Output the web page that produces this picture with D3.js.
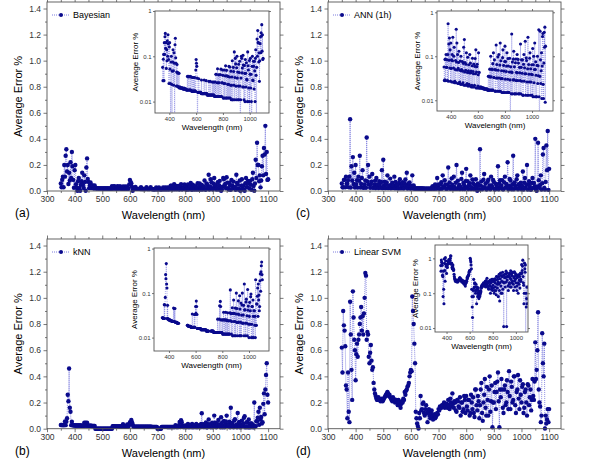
<!DOCTYPE html>
<html>
<head>
<meta charset="utf-8">
<script src="https://cdn.jsdelivr.net/npm/d3@7"></script>
<style>
  body { margin: 0; background: #fff; }
  text { font-family: "Liberation Sans", Arial, sans-serif; }
</style>
</head>
<body>
<div id="chart"></div>
<script>
// wavelengths sampled every 2.5 nm
var wavelength = [
  350,352.5,355,357.5,360,362.5,365,367.5,370,372.5,
  375,377.5,380,382.5,385,387.5,390,392.5,395,397.5,
  400,402.5,405,407.5,410,412.5,415,417.5,420,422.5,
  425,427.5,430,432.5,435,437.5,440,442.5,445,447.5,
  450,452.5,455,457.5,460,462.5,465,467.5,470,472.5,
  475,477.5,480,482.5,485,487.5,490,492.5,495,497.5,
  500,502.5,505,507.5,510,512.5,515,517.5,520,522.5,
  525,527.5,530,532.5,535,537.5,540,542.5,545,547.5,
  550,552.5,555,557.5,560,562.5,565,567.5,570,572.5,
  575,577.5,580,582.5,585,587.5,590,592.5,595,597.5,
  600,602.5,605,607.5,610,612.5,615,617.5,620,622.5,
  625,627.5,630,632.5,635,637.5,640,642.5,645,647.5,
  650,652.5,655,657.5,660,662.5,665,667.5,670,672.5,
  675,677.5,680,682.5,685,687.5,690,692.5,695,697.5,
  700,702.5,705,707.5,710,712.5,715,717.5,720,722.5,
  725,727.5,730,732.5,735,737.5,740,742.5,745,747.5,
  750,752.5,755,757.5,760,762.5,765,767.5,770,772.5,
  775,777.5,780,782.5,785,787.5,790,792.5,795,797.5,
  800,802.5,805,807.5,810,812.5,815,817.5,820,822.5,
  825,827.5,830,832.5,835,837.5,840,842.5,845,847.5,
  850,852.5,855,857.5,860,862.5,865,867.5,870,872.5,
  875,877.5,880,882.5,885,887.5,890,892.5,895,897.5,
  900,902.5,905,907.5,910,912.5,915,917.5,920,922.5,
  925,927.5,930,932.5,935,937.5,940,942.5,945,947.5,
  950,952.5,955,957.5,960,962.5,965,967.5,970,972.5,
  975,977.5,980,982.5,985,987.5,990,992.5,995,997.5,
  1000,1002.5,1005,1007.5,1010,1012.5,1015,1017.5,1020,1022.5,
  1025,1027.5,1030,1032.5,1035,1037.5,1040,1042.5,1045,1047.5,
  1050,1052.5,1055,1057.5,1060,1062.5,1065,1067.5,1070,1072.5,
  1075,1077.5,1080,1082.5,1085,1087.5,1090,1092.5,1095,1097.5,
  1100
];

var bayesian = [
  0.057,0.029,0.086,0.11,0.029,0.2,0.11,0.27,0.32,0.15,
  0.2,0.054,0.14,0.08,0.22,0.1,0.3,0.19,0.085,0.025,
  0.16,0.2,0.052,0.025,0.002,0.075,0.1,0.024,0.002,0.047,
  0.075,0.14,0.048,0.023,0.12,0.07,0.002,0.18,0.25,0.093,
  0.07,0.022,0.045,0.066,0.022,0.043,0.043,0.021,0.021,0.042,
  0.02,0.021,0.021,0.02,0.02,0.02,0.02,0.02,0.02,0.02,
  0.02,0.019,0.019,0.019,0.02,0.019,0.019,0.019,0.019,0.019,
  0.019,0.018,0.018,0.018,0.036,0.018,0.018,0.036,0.035,0.018,
  0.018,0.018,0.036,0.018,0.018,0.035,0.035,0.017,0.017,0.017,
  0.034,0.017,0.017,0.034,0.017,0.017,0.034,0.017,0.017,0.05,
  0.085,0.07,0.06,0.033,0.002,0.016,0.016,0.016,0.032,0.016,
  0.016,0.016,0.016,0.016,0.016,0.015,0.03,0.015,0.015,0.015,
  0.015,0.015,0.015,0.015,0.03,0.015,0.015,0.015,0.015,0.015,
  0.029,0.015,0.015,0.014,0.014,0.014,0.014,0.014,0.028,0.014,
  0.014,0.014,0.028,0.014,0.014,0.014,0.014,0.014,0.027,0.014,
  0.014,0.027,0.014,0.014,0.027,0.013,0.013,0.027,0.013,0.04,
  0.04,0.013,0.013,0.026,0.053,0.013,0.026,0.039,0.013,0.026,
  0.039,0.013,0.013,0.039,0.052,0.013,0.013,0.026,0.026,0.05,
  0.038,0.012,0.012,0.025,0.05,0.012,0.025,0.037,0.062,0.012,
  0.012,0.049,0.037,0.012,0.024,0.036,0.012,0.024,0.06,0.012,
  0.035,0.058,0.012,0.023,0.047,0.011,0.023,0.035,0.08,0.011,
  0.011,0.057,0.046,0.023,0.125,0.011,0.034,0.09,0.068,0.022,
  0.011,0.056,0.1,0.033,0.045,0.011,0.022,0.067,0.011,0.044,
  0.078,0.022,0.002,0.011,0.033,0.1,0.09,0.043,0.055,0.021,
  0.105,0.064,0.021,0.011,0.063,0.042,0.01,0.085,0.042,0.021,
  0.072,0.031,0.03,0.01,0.125,0.062,0.05,0.02,0.01,0.081,
  0.002,0.04,0.09,0.02,0.04,0.01,0.002,0.06,0.1,0.03,
  0.029,0.078,0.06,0.019,0.078,0.048,0.01,0.09,0.14,0.038,
  0.002,0.057,0.24,0.1,0.37,0.2,0.2,0.075,0.12,0.028,
  0.08,0.19,0.27,0.12,0.33,0.28,0.5,0.13,0.3,0.085,
  0.09
];

var knn = [
  0.028,0.028,0.028,0.027,0.027,0.027,0.055,0.027,0.054,0.08,
  0.26,0.21,0.46,0.16,0.13,0.027,0.053,0.026,0.026,0.026,
  0.025,0.025,0.025,0.025,0.024,0.024,0.024,0.024,0.024,0.024,
  0.023,0.023,0.023,0.023,0.046,0.023,0.045,0.023,0.045,0.022,
  0.022,0.022,0.022,0.022,0.022,0.021,0.021,0.021,0.021,0.021,
  0,0,0,0,0,0,0,0,0,0,
  0,0,0,0,0,0,0,0,0,0,
  0,0,0,0,0,0.019,0.019,0.019,0.018,0.018,
  0.018,0.018,0.018,0.018,0.018,0.018,0.017,0.017,0.017,0.017,
  0.034,0.017,0.017,0.017,0.017,0.017,0.033,0.017,0.017,0.033,
  0.05,0.035,0.066,0.05,0.033,0.016,0.016,0.016,0.016,0.016,
  0.016,0.016,0.016,0.016,0.016,0.016,0.015,0.015,0.015,0.015,
  0.015,0.015,0.015,0.015,0.015,0.015,0.015,0.015,0.015,0.015,
  0.015,0.015,0.014,0.014,0.014,0.014,0.014,0.014,0.014,0.014,
  0,0,0,0,0,0,0.014,0.014,0.014,0.014,
  0.014,0.014,0.014,0.014,0.013,0.013,0.013,0.013,0.013,0.013,
  0.013,0.013,0.013,0.013,0.013,0.013,0.026,0.013,0.013,0.013,
  0.013,0.026,0.052,0.013,0.065,0.05,0.025,0.013,0.013,0.013,
  0.025,0.012,0.012,0.025,0.037,0.012,0.012,0.025,0.025,0.012,
  0.037,0.012,0.012,0.025,0.024,0.012,0.036,0.012,0.012,0.024,
  0.024,0.012,0.012,0.036,0.118,0.024,0.035,0.012,0.023,0.035,
  0.047,0.011,0.011,0.035,0.07,0.023,0.035,0.011,0.023,0.046,
  0.011,0.034,0.1,0.022,0.045,0.011,0.022,0.034,0.067,0.022,
  0.033,0.011,0.087,0.044,0.011,0.022,0.06,0.011,0.032,0.054,
  0.1,0.021,0.021,0.032,0.053,0.011,0.16,0.042,0.042,0.021,
  0.011,0.063,0.073,0.021,0.031,0.011,0.12,0.041,0.051,0.02,
  0.01,0.03,0.062,0.02,0.04,0.083,0.095,0.01,0.02,0.05,
  0.05,0.01,0.07,0.03,0.01,0.04,0.04,0.019,0.03,0.01,
  0.2,0.019,0.019,0.057,0.057,0.085,0.13,0.03,0.16,0.07,
  0.09,0.04,0.05,0.19,0.27,0.11,0.3,0.41,0.5,0.26,
  0.2
];

var ann = [
  0.057,0.028,0.029,0.085,0.086,0.028,0.11,0.056,0.056,0.083,
  0.028,0.11,0.55,0.027,0.19,0.081,0.26,0.054,0.14,0.027,
  0.2,0.053,0.083,0.026,0.11,0.079,0.27,0.026,0.054,0.1,
  0.16,0.025,0.027,0.05,0.08,0.025,0.41,0.074,0.2,0.049,
  0.11,0.024,0.053,0.072,0.13,0.024,0.026,0.048,0.078,0.023,
  0.1,0.047,0.05,0.023,0.076,0.046,0.025,0.069,0.16,0.022,
  0.24,0.044,0.072,0.022,0.048,0.066,0.12,0.022,0.024,0.043,
  0.095,0.021,0.047,0.064,0.023,0.042,0.11,0.021,0.07,0.042,
  0.046,0.02,0.022,0.061,0.09,0.02,0.045,0.04,0.067,0.02,
  0.022,0.059,0.089,0.04,0.14,0.019,0.044,0.058,0.066,0.019,
  0.021,0.038,0.12,0.019,0.043,0.019,0.02,0.019,0.02,0.019,
  0.02,0.019,0.019,0.019,0.019,0.019,0.019,0.018,0.019,0.018,
  0.018,0.018,0.018,0.018,0.018,0.018,0.018,0.018,0.018,0.017,
  0.017,0.035,0.035,0.017,0.017,0.051,0.034,0.017,0.1,0.034,
  0.051,0.017,0.017,0.05,0.068,0.017,0.12,0.033,0.033,0.083,
  0.05,0.016,0.016,0.049,0.18,0.032,0.065,0.016,0.032,0.097,
  0.048,0.016,0.11,0.032,0.016,0.063,0.2,0.016,0.079,0.031,
  0.047,0.015,0.031,0.093,0.14,0.015,0.062,0.046,0.015,0.076,
  0.17,0.03,0.076,0.015,0.045,0.06,0.12,0.015,0.03,0.089,
  0.06,0.015,0.015,0.044,0.09,0.029,0.002,0.058,0.044,0.014,
  0.32,0.043,0.074,0.014,0.029,0.086,0.13,0.029,0.058,0.014,
  0.014,0.071,0.087,0.028,0.043,0.014,0.11,0.042,0.028,0.085,
  0.07,0.014,0.014,0.056,0.042,0.028,0.19,0.014,0.056,0.083,
  0.027,0.041,0.083,0.013,0.013,0.066,0.11,0.027,0.055,0.04,
  0.22,0.013,0.04,0.092,0.08,0.026,0.013,0.052,0.27,0.013,
  0.065,0.039,0.026,0.09,0.12,0.013,0.052,0.026,0.039,0.064,
  0.013,0.038,0.15,0.012,0.064,0.1,0.025,0.05,0.2,0.012,
  0.05,0.075,0.037,0.012,0.012,0.062,0.1,0.024,0.061,0.036,
  0.4,0.012,0.002,0.035,0.37,0.083,0.024,0.047,0.12,0.011,
  0.06,0.28,0.33,0.023,0.011,0.07,0.35,0.16,0.46,0.009,
  0.17
];

var svm = [
  0.62,0.43,0.9,0.79,0.75,0.63,0.33,0.3,0.08,0.43,
  0.13,0.05,0.97,0.72,0.45,0.22,1.05,0.85,0.68,0.6,
  0.37,0.57,0.65,0.55,0.68,0.72,0.8,0.85,0.93,0.75,
  0.86,0.72,0.88,1.0,1.19,1.17,0.68,0.74,0.72,0.55,
  0.5,0.58,0.64,0.52,0.45,0.47,0.35,0.3,0.27,0.25,
  0.23,0.22,0.22,0.24,0.23,0.22,0.21,0.22,0.23,0.21,
  0.22,0.23,0.24,0.25,0.26,0.27,0.28,0.27,0.25,0.26,
  0.24,0.23,0.22,0.21,0.24,0.23,0.22,0.2,0.21,0.22,
  0.2,0.18,0.22,0.2,0.18,0.16,0.19,0.21,0.2,0.23,
  0.22,0.28,0.26,0.29,0.3,0.32,0.33,0.35,0.4,0.43,
  0.45,0.44,1.01,0.9,0.8,0.65,0.5,0.13,0.08,0.04,
  0.02,0.002,0.12,0.08,0.25,0.14,0.15,0.19,0.2,0.12,
  0.1,0.15,0.18,0.12,0.05,0.13,0.15,0.1,0.08,0.12,
  0.14,0.09,0.07,0.1,0.11,0.08,0.09,0.1,0.12,0.11,
  0.15,0.14,0.17,0.16,0.16,0.18,0.18,0.17,0.2,0.16,
  0.17,0.19,0.19,0.16,0.22,0.18,0.15,0.23,0.2,0.17,
  0.27,0.19,0.16,0.21,0.2,0.14,0.13,0.22,0.21,0.17,
  0.16,0.24,0.1,0.2,0.2,0.13,0.15,0.25,0.22,0.12,
  0.25,0.17,0.14,0.22,0.22,0.1,0.12,0.26,0.2,0.15,
  0.24,0.12,0.09,0.3,0.3,0.18,0.14,0.25,0.21,0.08,
  0.18,0.3,0.35,0.12,0.06,0.2,0.26,0.38,0.16,0.1,
  0.32,0.22,0.1,0.3,0.4,0.13,0.21,0.33,0.011,0.2,
  0.2,0.28,0.35,0.15,0.28,0.36,0.43,0.21,0.011,0.3,
  0.24,0.38,0.3,0.16,0.12,0.3,0.33,0.18,0.2,0.37,
  0.28,0.15,0.44,0.25,0.15,0.36,0.32,0.2,0.22,0.4,
  0.4,0.18,0.12,0.28,0.3,0.41,0.23,0.15,0.37,0.26,
  0.2,0.32,0.34,0.12,0.16,0.28,0.3,0.2,0.1,0.34,
  0.33,0.18,0.24,0.3,0.14,0.22,0.38,0.25,0.22,0.36,
  0.66,0.38,0.45,0.6,0.89,0.3,0.2,0.17,0.05,0.1,
  0.73,0.5,0.4,0.65,0.002,0.1,0.04,0.07,0.15,0.05,
  0.15
];

// tick values
var mainXTicks = [300, 400, 500, 600, 700, 800, 900, 1000, 1100];
var mainXMinor = [350, 450, 550, 650, 750, 850, 950, 1050];
var mainYTicks = [0, 0.2, 0.4, 0.6, 0.8, 1.0, 1.2, 1.4];
var mainYMinor = [0.1, 0.3, 0.5, 0.7, 0.9, 1.1, 1.3];
var insetXTicks = [400, 600, 800, 1000];
var insetYTicks = [0.01, 0.1, 1];

var markColor = "#0a0a8c",
    lineColor = "#5c5cd6",
    frameColor = "#555";

var svg = d3.select("#chart")
  .append("svg")
    .attr("width", 598)
    .attr("height", 462);

var panels = [
  {id: "a", name: "Bayesian", values: bayesian,
   frame: {x0: 47, x1: 280, y0: 2, y1: 191},
   inset: {x0: 155, x1: 269, y0: 11, y1: 113, xd: [293, 1144], yd: [0.0056, 1]}},
  {id: "b", name: "kNN", values: knn,
   frame: {x0: 47, x1: 280, y0: 239, y1: 428.7},
   inset: {x0: 154, x1: 269, y0: 248, y1: 351, xd: [288, 1150], yd: [0.005, 1.03]}},
  {id: "c", name: "ANN (1h)", values: ann,
   frame: {x0: 328, x1: 561, y0: 2, y1: 191},
   inset: {x0: 437, x1: 553, y0: 11, y1: 111, xd: [298, 1155], yd: [0.0057, 1.07]}},
  {id: "d", name: "Linear SVM", values: svm,
   frame: {x0: 328, x1: 561, y0: 239, y1: 428.7},
   inset: {x0: 435, x1: 528, y0: 245, y1: 332, xd: [300, 1105], yd: [0.0077, 2.42]}}
];

// box with outward ticks on all four sides, labels on bottom/left
function drawFrame(g, x, y, f, opt) {
  g.append("g")
    .attr("transform", "translate(0," + f.y1 + ")")
    .call(d3.axisBottom(x).tickValues(opt.xTicks).tickSize(opt.major)
      .tickPadding(opt.padX).tickFormat(opt.xFormat));
  g.append("g")
    .attr("transform", "translate(0," + f.y0 + ")")
    .call(d3.axisTop(x).tickValues(opt.xTicks).tickSize(opt.major).tickFormat(""));
  g.append("g")
    .attr("transform", "translate(" + f.x0 + ",0)")
    .call(d3.axisLeft(y).tickValues(opt.yTicks).tickSize(opt.major)
      .tickPadding(opt.padY).tickFormat(opt.yFormat));
  g.append("g")
    .attr("transform", "translate(" + f.x1 + ",0)")
    .call(d3.axisRight(y).tickValues(opt.yTicks).tickSize(opt.major).tickFormat(""));

  if (opt.xMinor) {
    g.append("g").attr("transform", "translate(0," + f.y1 + ")")
      .call(d3.axisBottom(x).tickValues(opt.xMinor).tickSize(opt.minor).tickFormat(""));
    g.append("g").attr("transform", "translate(0," + f.y0 + ")")
      .call(d3.axisTop(x).tickValues(opt.xMinor).tickSize(opt.minor).tickFormat(""));
  }
  if (opt.yMinor) {
    g.append("g").attr("transform", "translate(" + f.x0 + ",0)")
      .call(d3.axisLeft(y).tickValues(opt.yMinor).tickSize(opt.minor).tickFormat(""));
    g.append("g").attr("transform", "translate(" + f.x1 + ",0)")
      .call(d3.axisRight(y).tickValues(opt.yMinor).tickSize(opt.minor).tickFormat(""));
  }

  g.selectAll(".domain").remove();
  g.selectAll(".tick line").attr("stroke", frameColor).attr("stroke-width", 0.8);
  g.selectAll(".tick text")
    .attr("fill", "#333")
    .style("font-family", "'Liberation Sans', Arial, sans-serif")
    .style("font-size", opt.fontSize + "px");

  g.append("rect")
    .attr("x", f.x0).attr("y", f.y0)
    .attr("width", f.x1 - f.x0).attr("height", f.y1 - f.y0)
    .attr("fill", "none")
    .attr("stroke", frameColor)
    .attr("stroke-width", 0.9);
}

panels.forEach(function(p) {
  var f = p.frame, ins = p.inset;
  var data = wavelength.map(function(w, i) { return {w: w, v: p.values[i]}; });
  var g = svg.append("g");

  // main plot
  var x = d3.scaleLinear().domain([300, 1143]).range([f.x0, f.x1]);
  var y = d3.scaleLinear().domain([0, 1.45]).range([f.y1, f.y0]);

  g.append("path")
    .datum(data)
    .attr("fill", "none")
    .attr("stroke", lineColor)
    .attr("stroke-width", 0.7)
    .attr("stroke-dasharray", "1,1")
    .attr("d", d3.line()
      .x(function(d) { return x(d.w); })
      .y(function(d) { return y(d.v); }));

  g.append("g").selectAll("circle")
    .data(data)
    .enter().append("circle")
      .attr("cx", function(d) { return x(d.w); })
      .attr("cy", function(d) { return y(d.v); })
      .attr("r", 2.2)
      .attr("fill", markColor);

  drawFrame(g, x, y, f, {
    xTicks: mainXTicks, xMinor: mainXMinor, yTicks: mainYTicks, yMinor: mainYMinor,
    major: 3.5, minor: 2, padX: 1.5, padY: 2.5, fontSize: 8.5,
    xFormat: d3.format("d"), yFormat: d3.format(".1f")
  });

  // axis titles
  g.append("text")
    .attr("x", (f.x0 + f.x1) / 2)
    .attr("y", f.y1 + 28)
    .attr("text-anchor", "middle")
    .style("font-size", "11px")
    .text("Wavelength (nm)");
  g.append("text")
    .attr("transform", "translate(" + (f.x0 - 25) + "," + ((f.y0 + f.y1) / 2) + ") rotate(-90)")
    .attr("text-anchor", "middle")
    .style("font-size", "11px")
    .text("Average Error %");
  g.append("text")
    .attr("x", f.x0 - 32)
    .attr("y", f.y1 + 26)
    .style("font-size", "12px")
    .text("(" + p.id + ")");

  // legend
  var ly = f.y0 + 13;
  g.append("line")
    .attr("x1", f.x0 + 5).attr("x2", f.x0 + 22)
    .attr("y1", ly).attr("y2", ly)
    .attr("stroke", lineColor).attr("stroke-width", 0.8)
    .attr("stroke-dasharray", "1,1");
  g.append("circle")
    .attr("cx", f.x0 + 14).attr("cy", ly).attr("r", 2)
    .attr("fill", markColor);
  g.append("text")
    .attr("x", f.x0 + 26).attr("y", ly)
    .attr("dy", "0.35em")
    .style("font-size", "9px")
    .text(p.name);

  // inset (log scale)
  var gi = svg.append("g");
  var xi = d3.scaleLinear().domain(ins.xd).range([ins.x0, ins.x1]);
  var yi = d3.scaleLog().domain(ins.yd).range([ins.y1, ins.y0]);

  gi.append("rect")
    .attr("x", ins.x0).attr("y", ins.y0)
    .attr("width", ins.x1 - ins.x0).attr("height", ins.y1 - ins.y0)
    .attr("fill", "#fff");

  gi.append("clipPath").attr("id", "clip-" + p.id)
    .append("rect")
      .attr("x", ins.x0).attr("y", ins.y0)
      .attr("width", ins.x1 - ins.x0).attr("height", ins.y1 - ins.y0);

  var gc = gi.append("g").attr("clip-path", "url(#clip-" + p.id + ")");
  gc.append("path")
    .datum(data)
    .attr("fill", "none")
    .attr("stroke", lineColor)
    .attr("stroke-width", 0.5)
    .attr("stroke-dasharray", "1,1")
    .attr("d", d3.line()
      .defined(function(d) { return d.v > 0; })
      .x(function(d) { return xi(d.w); })
      .y(function(d) { return yi(d.v); }));
  gc.selectAll("circle")
    .data(data.filter(function(d) { return d.v > 0; }))
    .enter().append("circle")
      .attr("cx", function(d) { return xi(d.w); })
      .attr("cy", function(d) { return yi(d.v); })
      .attr("r", 1.55)
      .attr("fill", markColor);

  drawFrame(gi, xi, yi, ins, {
    xTicks: insetXTicks, yTicks: insetYTicks,
    major: 2, minor: 1.5, padX: 1.5, padY: 1.5, fontSize: 6,
    xFormat: d3.format("d"), yFormat: function(d) { return d >= 1 ? "1" : String(d); }
  });

  gi.append("text")
    .attr("x", (ins.x0 + ins.x1) / 2)
    .attr("y", ins.y1 + 17)
    .attr("text-anchor", "middle")
    .style("font-size", "8px")
    .text("Wavelength (nm)");
  gi.append("text")
    .attr("transform", "translate(" + (ins.x0 - 17) + "," + ((ins.y0 + ins.y1) / 2) + ") rotate(-90)")
    .attr("text-anchor", "middle")
    .style("font-size", "8px")
    .text("Average Error %");
});
</script>
</body>
</html>
